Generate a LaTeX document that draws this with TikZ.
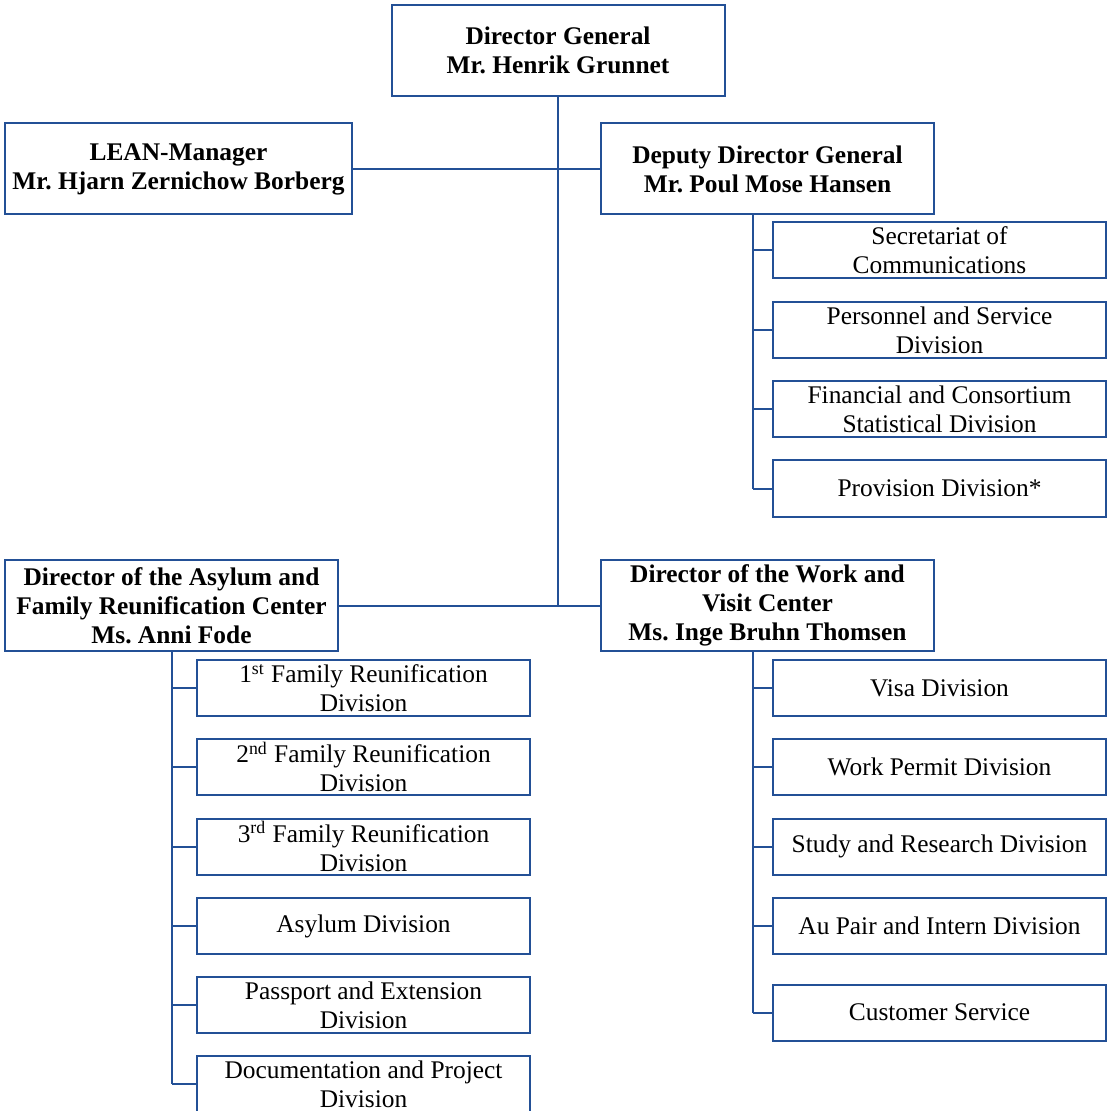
\documentclass[tikz,border=0pt]{standalone}
\usepackage{fontspec}
\setmainfont{Liberation Serif}
\usetikzlibrary{calc}

\definecolor{orgblue}{RGB}{35,80,150}

\tikzset{
  box/.style={draw=orgblue, line width=1pt, fill=white, align=center,
    inner sep=1pt, minimum width=166.5pt, minimum height=28pt,
    font=\fontsize{12.7}{14.5}\selectfont},
  headbox/.style={box, font=\fontsize{12.7}{14.5}\selectfont\bfseries, minimum height=45.5pt},
  link/.style={draw=orgblue, line width=1pt},
}

\begin{document}
\frenchspacing
\begin{tikzpicture}[x=0.5pt, y=-0.5pt]

\useasboundingbox (0,0) rectangle (1107,1111);

% top level
\node[headbox] (dg) at (558,50.5) {Director General\\Mr. Henrik Grunnet};
\node[headbox, minimum width=173.5pt] (lean) at (178.5,169) {LEAN-Manager\\Mr. Hjarn Zernichow Borberg};
\node[headbox] (deputy) at (767.5,169) {Deputy Director General\\Mr. Poul Mose Hansen};

% centers
\node[headbox] (asylumdir) at (171.5,605.5) {Director of the Asylum and\\Family Reunification Center\\Ms. Anni Fode};
\node[headbox] (workdir) at (767.5,605.5) {Director of the Work and\\Visit Center\\Ms. Inge Bruhn Thomsen};

\draw[link] (dg.south) -- (dg.south |- asylumdir.east);
\draw[link] (lean.east) -- (deputy.west);
\draw[link] (asylumdir.east) -- (workdir.west);

% under the deputy
\node[box] (secr) at (939.5,250.5) {Secretariat of\\Communications};
\node[box] (pers) at (939.5,330) {Personnel and Service\\Division};
\node[box] (fin) at (939.5,409) {Financial and Consortium\\Statistical Division};
\node[box] (prov) at (939.5,488.5) {Provision Division*};

\coordinate (dspine) at (753,214);
\draw[link] (dspine) -- (dspine |- prov.west);
\foreach \n in {secr,pers,fin,prov}
  \draw[link] (dspine |- \n.west) -- (\n.west);

% asylum and family reunification
\node[box] (fam1) at (363.5,688) {1\textsuperscript{st} Family Reunification\\Division};
\node[box] (fam2) at (363.5,767) {2\textsuperscript{nd} Family Reunification\\Division};
\node[box] (fam3) at (363.5,846.5) {3\textsuperscript{rd} Family Reunification\\Division};
\node[box] (asyl) at (363.5,926) {Asylum Division};
\node[box] (pass) at (363.5,1005) {Passport and Extension\\Division};
\node[box] (doc) at (363.5,1084) {Documentation and Project\\Division};

\draw[link] (asylumdir.south) -- (asylumdir.south |- doc.west);
\foreach \n in {fam1,fam2,fam3,asyl,pass,doc}
  \draw[link] (asylumdir.south |- \n.west) -- (\n.west);

% work and visit
\node[box] (visa) at (939.5,688) {Visa Division};
\node[box] (work) at (939.5,767) {Work Permit Division};
\node[box] (study) at (939.5,846.5) {Study and Research Division};
\node[box] (aupair) at (939.5,926) {Au Pair and Intern Division};
\node[box] (cust) at (939.5,1012.5) {Customer Service};

\coordinate (wspine) at (753,651);
\draw[link] (wspine) -- (wspine |- cust.west);
\foreach \n in {visa,work,study,aupair,cust}
  \draw[link] (wspine |- \n.west) -- (\n.west);

\end{tikzpicture}
\end{document}
